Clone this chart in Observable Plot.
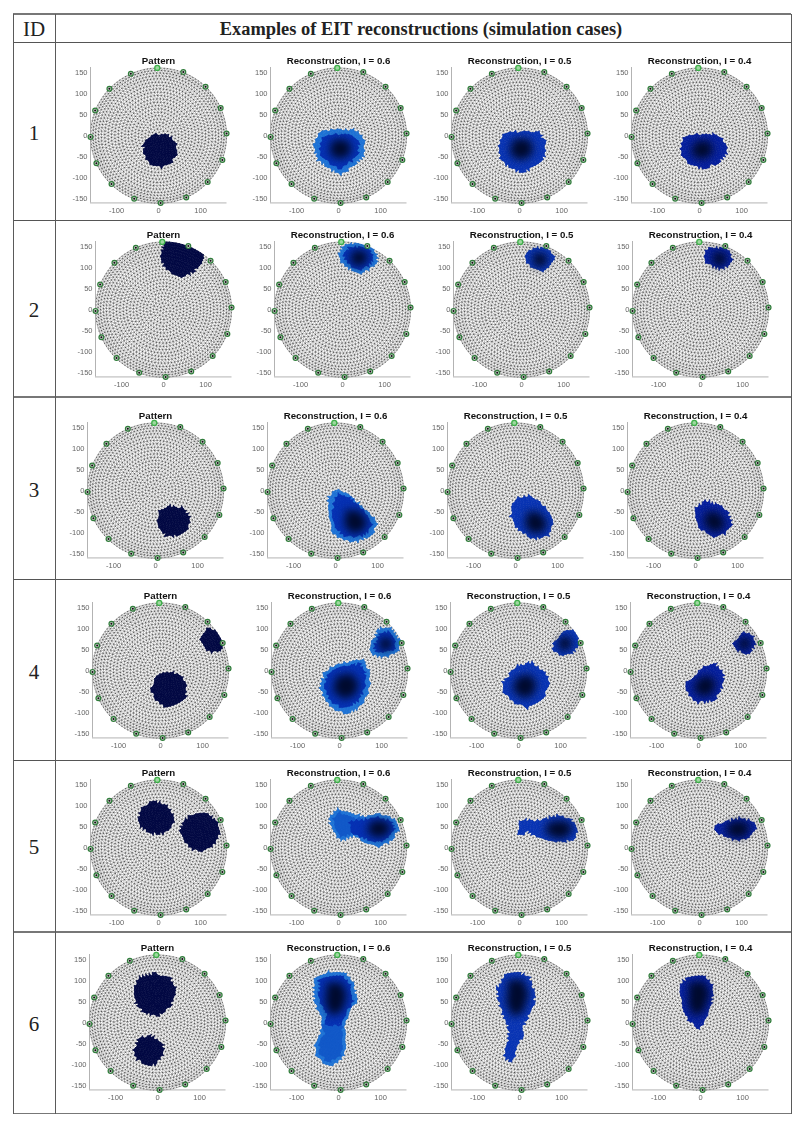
<!DOCTYPE html>
<html><head><meta charset="utf-8">
<script src="https://cdn.jsdelivr.net/npm/d3@7"></script>
<script src="https://cdn.jsdelivr.net/npm/@observablehq/plot@0.6"></script>
<style>
html,body{margin:0;padding:0;background:#fff}
#page{position:relative;width:800px;height:1124px;overflow:hidden;background:#fff}
.ln{position:absolute;background:#5a5a5a}
.lb{position:absolute;font-family:"Liberation Serif",serif;color:#222;text-align:center;line-height:1;white-space:nowrap}
svg{filter:blur(.22px)}
</style></head><body><div id="page"></div>
<script>
// ---------- table text ----------
const headerId = "ID";
const headerTitle = "Examples of EIT reconstructions (simulation cases)";
const caseIds = ["1","2","3","4","5","6"];
const panelTitles = ["Pattern","Reconstruction, I = 0.6","Reconstruction, I = 0.5","Reconstruction, I = 0.4"];
const xTicks = [-100,0,100];
const yTicks = [-150,-100,-50,0,50,100,150];

// ---------- electrodes (16 around the rim) ----------
const electrodes = [[-3,162],[59,152],[112,117],[148,66],[162,5],[152,-58],[117,-111],[66,-148],[5,-161],[-58,-151],[-112,-116],[-148,-66],[-162,-3],[-151,60],[-117,112],[-66,148]];

// ---------- FEM mesh: schematic ring layout, individual nodes are not legible in the source ----------
const meshRadii = [0,8,16,24,32,40,48,56,64,72,80,88,96,104,112,120,128,136,143,150,156,162];

// ---------- region outlines (data units) ----------
const c1Pattern=[[[-14,1],[-2,2],[8,0],[13,2],[18,7],[22,0],[28,-4],[33,-5],[36,-14],[42,-22],[41,-33],[43,-42],[38,-52],[33,-60],[27,-68],[18,-71],[9,-75],[0,-72],[-8,-72],[-16,-70],[-22,-63],[-30,-58],[-33,-50],[-36,-40],[-34,-30],[-36,-24],[-30,-16],[-25,-10],[-20,-3]]];
const c1R6=[[[-24,13],[44,13],[61,-8],[58,-48],[36,-71],[4,-93],[-20,-79],[-48,-60],[-58,-28],[-48,4]]];
const c1R6in=[[[-15,3],[30,1],[48,-15],[46,-45],[28,-62],[4,-78],[-18,-68],[-40,-50],[-46,-25],[-36,-5]]];
const c1R6core=[[[-15,-15],[15,-12],[28,-30],[18,-48],[-5,-52],[-20,-35]]];
const c1R5=[[[-30,8],[45,10],[60,-15],[62,-45],[40,-72],[5,-88],[-25,-75],[-45,-55],[-50,-25],[-42,-5]]];
const c1R5core=[[[-15,-12],[18,-10],[30,-30],[20,-50],[-5,-55],[-22,-35]]];
const c1R4=[[[-25,3],[40,3],[62,-18],[66,-40],[45,-65],[10,-79],[-22,-70],[-40,-50],[-42,-25],[-35,-5]]];
const c1R4core=[[[-10,-18],[18,-15],[30,-32],[18,-50],[-5,-52],[-18,-35]]];

const c2Pattern=[[[5,164],[33,159],[69,146],[94,130],[89,112],[73,92],[48,78],[17,90],[0,108],[-6,128],[-4,140]]];
const c2R6=[[[-8,135],[0,150],[15,157],[40,158],[60,152],[75,142],[84,125],[80,108],[65,98],[50,88],[40,85],[25,95],[5,105],[-5,118]]];
const c2R6in=[[[4,132],[16,148],[40,150],[64,142],[74,122],[62,106],[42,94],[20,106],[6,118]]];
const c2R6core=[[[26,138],[50,138],[58,122],[44,108],[28,110],[20,124]]];
const c2R5=[[[10,125],[16,142],[40,148],[65,142],[80,125],[70,105],[48,90],[28,100],[14,110]]];
const c2R5core=[[[28,132],[52,132],[60,118],[46,104],[30,108]]];
const c2R4=[[[12,140],[28,148],[56,146],[71,138],[75,120],[67,108],[52,96],[32,104],[16,112],[10,127]]];
const c2R4core=[[[30,134],[54,134],[60,118],[46,106],[32,112]]];

const c3Pattern=[[[3,-71],[11,-47],[35,-37],[67,-41],[81,-62],[79,-87],[59,-106],[27,-110],[15,-98],[5,-78]]];
const c3R6=[[[-17,-19],[-1,3],[27,-5],[55,-31],[75,-47],[98,-75],[86,-106],[51,-122],[19,-118],[-5,-102],[-13,-75],[-17,-47]]];
const c3R6in=[[[-5,-28],[8,-8],[30,-14],[60,-42],[88,-78],[78,-98],[50,-112],[20,-106],[0,-90],[-6,-60]]];
const c3R6core=[[[25,-50],[55,-52],[72,-75],[62,-95],[38,-98],[22,-78]]];
const c3R5=[[[-9,-43],[3,-19],[35,-11],[59,-27],[75,-47],[90,-75],[79,-106],[43,-116],[11,-98],[-1,-79],[-11,-63]]];
const c3R5core=[[[28,-55],[55,-55],[72,-78],[62,-98],[38,-98],[24,-78]]];
const c3R4=[[[-1,-47],[23,-23],[55,-35],[75,-51],[87,-79],[71,-102],[43,-110],[11,-90],[3,-71]]];
const c3R4core=[[[25,-55],[52,-55],[68,-78],[56,-95],[36,-92],[22,-75]]];

const c4Pattern=[[[-20,-44],[-8,-12],[24,-2],[52,-12],[62,-40],[59,-67],[36,-83],[12,-89],[-12,-71],[-22,-48]],[[98,83],[115,103],[135,91],[151,63],[143,45],[115,44],[99,63]]];
const c4R6=[[[-46,-40],[-34,-4],[2,18],[57,26],[73,-8],[69,-48],[53,-83],[17,-103],[-22,-87],[-42,-52]],[[75,60],[93,99],[121,103],[144,71],[140,44],[105,32],[77,36]]];
const c4R6in=[[[-36,-36],[-24,-6],[4,8],[50,16],[62,-10],[58,-45],[42,-72],[16,-90],[-18,-76],[-32,-50]],[[84,58],[98,90],[118,92],[134,68],[128,50],[104,42],[86,44]]];
const c4R6core=[[[-8,-18],[25,-10],[42,-30],[35,-55],[10,-65],[-14,-45]],[[98,74],[118,76],[124,58],[106,50],[96,56]]];
const c4R5=[[[-36,-28],[-8,8],[32,20],[63,-4],[71,-32],[60,-67],[20,-89],[-12,-75],[-36,-52]],[[83,63],[107,95],[135,95],[144,63],[127,40],[99,36],[83,52]]];
const c4R5core=[[[-5,-20],[25,-12],[40,-32],[30,-58],[8,-62],[-12,-42]],[[98,76],[120,78],[124,58],[106,50],[96,58]]];
const c4R4=[[[-28,-28],[12,8],[40,16],[59,-8],[56,-36],[40,-71],[-4,-75],[-28,-48]],[[83,63],[107,91],[131,83],[135,63],[119,40],[87,50]]];
const c4R4core=[[[0,-22],[25,-15],[38,-32],[28,-55],[6,-58],[-10,-40]],[[98,74],[118,76],[122,60],[106,52],[96,58]]];

const c5Pattern=[[[-48,70],[-40,95],[-15,110],[15,105],[33,85],[38,60],[22,40],[0,32],[-25,36],[-42,50]],[[52,40],[60,65],[85,80],[115,82],[140,62],[146,35],[135,10],[110,-8],[85,-5],[62,12]]];
const c5R6=[[[-20,77],[-4,93],[28,83],[60,74],[95,81],[131,69],[143,45],[127,17],[95,2],[63,13],[36,29],[4,17],[-8,33],[-20,57]]];
const c5R6mid=[[[-12,68],[-2,84],[26,76],[60,66],[60,22],[36,36],[6,26],[-6,40]]];
const c5R6in=[[[26,60],[60,66],[95,72],[125,62],[134,44],[118,24],[94,12],[66,22],[30,36]]];
const c5R6core=[[[78,60],[108,62],[122,45],[104,28],[82,30],[70,44]]];
const c5R5=[[[3,67],[31,65],[59,67],[90,77],[122,69],[138,41],[132,21],[98,13],[55,23],[31,29],[19,41],[7,29],[-3,33]]];
const c5R5core=[[[70,58],[108,62],[124,45],[106,25],[80,28],[62,42]]];
const c5R4=[[[35,53],[61,61],[97,71],[132,61],[132,45],[117,21],[81,19],[61,29],[41,35]]];
const c5R4core=[[[70,55],[100,62],[118,48],[104,28],[80,28],[64,42]]];

const c6Pattern=[[[-56,77],[-41,109],[-6,118],[30,109],[44,73],[30,37],[-2,15],[-33,25],[-53,49]],[[-56,-66],[-45,-38],[-17,-30],[10,-46],[16,-70],[-2,-98],[-29,-102],[-49,-86]]];
const c6R6=[[[-55,105],[-23,121],[17,121],[37,89],[44,53],[25,25],[13,-6],[17,-50],[9,-86],[-23,-106],[-51,-78],[-55,-58],[-43,-26],[-39,6],[-55,45],[-59,77]]];
const c6R6mid=[[[-38,-6],[8,-6],[10,-50],[3,-78],[-22,-96],[-44,-72],[-46,-55],[-34,-28]]];
const c6R6in=[[[-45,100],[-20,112],[12,112],[28,85],[34,52],[16,22],[6,-6],[-30,-6],[-28,22],[-46,52]]];
const c6R6core=[[[-28,92],[6,92],[16,62],[4,28],[-18,22],[-30,55]]];
const c6R5=[[[-54,81],[-37,113],[-5,121],[23,109],[35,78],[35,45],[19,13],[7,-10],[11,-34],[-9,-54],[-9,-78],[-21,-94],[-38,-78],[-29,-54],[-25,-26],[-27,-6],[-40,21],[-48,49]]];
const c6R5core=[[[-28,98],[6,100],[18,68],[6,28],[-14,18],[-30,52]]];
const c6R4=[[[-47,89],[-35,105],[9,113],[31,85],[26,45],[9,5],[-3,-14],[-31,5],[-43,37],[-47,65]]];
const c6R4core=[[[-28,92],[8,96],[18,68],[4,28],[-14,20],[-28,50]]];

// ---------- colours ----------
const patternColor="#010843", coreColor="#000a2e";
const rimColors=["#1d72d6","#0833b4","#051f9e"];
const inColor="#0630b2", midColor="#1258c8";
const meshColor="#1c1c1c", axisColor="#a0a0a0", tickColor="#666";

// ---------- layout ----------
const zeroX=[[158,338.3,519,699],[162.7,342,521.5,700],[155.3,335.3,515.3,695.3],[160,339.3,518.3,698.3],[158,338.3,518.7,699.3],[157.3,338,518.7,699.7]];
const zeroY=[135,308.7,490.3,670,847.3,1022.3];
const W=180,H=180,ML=30,MT=22,KX=.42,KY=.418,XD=[-162,163],YD=[-161,163];

const panels=[
 [{o:c1Pattern},{o:c1R6,i:c1R6in,c:c1R6core},{o:c1R5,c:c1R5core},{o:c1R4,c:c1R4core}],
 [{o:c2Pattern},{o:c2R6,i:c2R6in,c:c2R6core},{o:c2R5,c:c2R5core},{o:c2R4,c:c2R4core}],
 [{o:c3Pattern},{o:c3R6,i:c3R6in,c:c3R6core},{o:c3R5,c:c3R5core},{o:c3R4,c:c3R4core}],
 [{o:c4Pattern},{o:c4R6,i:c4R6in,c:c4R6core},{o:c4R5,c:c4R5core},{o:c4R4,c:c4R4core}],
 [{o:c5Pattern},{o:c5R6,m:c5R6mid,i:c5R6in,c:c5R6core},{o:c5R5,c:c5R5core},{o:c5R4,c:c5R4core}],
 [{o:c6Pattern},{o:c6R6,m:c6R6mid,i:c6R6in,c:c6R6core},{o:c6R5,c:c6R5core},{o:c6R4,c:c6R4core}]
];

// mesh nodes + triangles
const nodes=[];
meshRadii.forEach((r,k)=>{
  if(r===0){nodes.push([0,0]);return;}
  const n=Math.round(2*Math.PI*r/8), ph=k*0.37;
  for(let j=0;j<n;j++){const a=ph+2*Math.PI*j/n;nodes.push([r*Math.cos(a),r*Math.sin(a)]);}
});
const del=d3.Delaunay.from(nodes);
const tris=[];
for(let t=0;t<del.triangles.length;t+=3){
  const a=nodes[del.triangles[t]],b=nodes[del.triangles[t+1]],e=nodes[del.triangles[t+2]];
  tris.push({pts:[a,b,e],cx:(a[0]+b[0]+e[0])/3,cy:(a[1]+b[1]+e[1])/3});
}
const inAny=(polys,t)=>polys.some(p=>d3.polygonContains(p,[t.cx,t.cy]));
const triRows=polys=>{const rows=[];tris.forEach((t,i)=>{if(inAny(polys,t))t.pts.forEach(p=>rows.push({x:p[0],y:p[1],t:i}));});return rows;};
const polyRows=polys=>polys.flatMap((p,i)=>p.map(q=>({x:q[0],y:q[1],t:i})));

const page=document.getElementById("page");
function line(x,y,w,h,c){const d=document.createElement("div");d.className="ln";d.style.cssText=`left:${x}px;top:${y}px;width:${w}px;height:${h}px`+(c?`;background:${c}`:"");page.appendChild(d);}
function label(text,cx,cy,size,bold,extra){const d=document.createElement("div");d.className="lb";d.textContent=text;d.style.cssText=`left:${cx-300}px;width:600px;top:${cy-size/2}px;font-size:${size}px;`+(bold?"font-weight:bold;":"")+(extra||"");page.appendChild(d);}

const triMark=(polys,color,edge)=>Plot.line(triRows(polys),{x:"x",y:"y",z:"t",fill:color,stroke:edge||color,strokeWidth:.8,curve:"linear"});

panels.forEach((row,ri)=>row.forEach((p,ci)=>{
  const fill=ci===0?patternColor:rimColors[ci-1];
  const marks=[
    Plot.delaunayMesh(nodes,{x:d=>d[0],y:d=>d[1],stroke:meshColor,strokeWidth:.3,strokeOpacity:1}),
    Plot.dot(nodes,{x:d=>d[0],y:d=>d[1],r:.35,fill:"#111"}),
    triMark(p.o,fill)
  ];
  if(p.m) marks.push(triMark(p.m,midColor));
  if(p.i) marks.push(triMark(p.i,inColor));
  if(p.c) marks.push(Plot.line(polyRows(p.c),{x:"x",y:"y",z:"t",fill:coreColor,stroke:coreColor,strokeWidth:3,imageFilter:"blur(4px)",curve:"linear"}));
  marks.push(
    Plot.axisX({ticks:xTicks,tickSize:0,tickPadding:5,label:null,fontSize:7.5,color:tickColor,tickFormat:d=>String(d),fontFamily:"Liberation Sans"}),
    Plot.axisY({ticks:yTicks,tickSize:0,tickPadding:3,label:null,fontSize:7.5,color:tickColor,tickFormat:d=>String(d),fontFamily:"Liberation Sans"}),
    Plot.ruleX([XD[0]],{stroke:axisColor,strokeWidth:.8}),
    Plot.ruleY([YD[0]],{stroke:axisColor,strokeWidth:.8}),
    Plot.dot(electrodes.slice(1),{x:d=>d[0],y:d=>d[1],r:2.4,stroke:"#2f7d3a",strokeWidth:1.2,fill:"#c8c8c8"}),
    Plot.dot(electrodes.slice(1),{x:d=>d[0],y:d=>d[1],r:1,fill:"#111"}),
    Plot.dot(electrodes.slice(0,1),{x:d=>d[0],y:d=>d[1],r:2.5,stroke:"#3fb04a",strokeWidth:1.3,fill:"#9fd8a0"}),
    Plot.text([panelTitles[ci]],{x:()=>0,y:()=>180,text:d=>d,fontSize:9.7,fontWeight:"bold",fill:"#111",fontFamily:"Liberation Sans"})
  );
  const el=Plot.plot({width:W,height:H,marginLeft:ML,marginRight:W-ML-(XD[1]-XD[0])*KX,marginTop:MT,marginBottom:H-MT-(YD[1]-YD[0])*KY,
    x:{domain:XD,axis:null},y:{domain:YD,axis:null},style:{background:"transparent",overflow:"visible"},marks});
  el.style.position="absolute";
  el.style.left=(zeroX[ri][ci]-ML+XD[0]*KX)+"px";
  el.style.top=(zeroY[ri]-MT-YD[1]*KY)+"px";
  page.appendChild(el);
}));

// table rules
const tl=13,tr=791,div=55.5;
const rowLines=[14,43,220.5,396.7,579.5,761,931.7,1113.3];
rowLines.forEach((y,i)=>line(tl,y-.6,tr-tl,(i===0||i===3||i===6||i===7)?1.6:1.1,(i===0||i===3||i===6||i===7)?"#777":"#555"));
line(tl-.5,14,1.2,1099.5);line(div-.5,14,1.2,1099.5);line(tr-.5,14,1.2,1099.5);
// table text
label(headerId,34,29,21,false);
label(headerTitle,421,29,18.4,true);
const idY=[133,310,490,672,847,1024];
caseIds.forEach((s,i)=>label(s,34,idY[i],21,false));
</script></body></html>
